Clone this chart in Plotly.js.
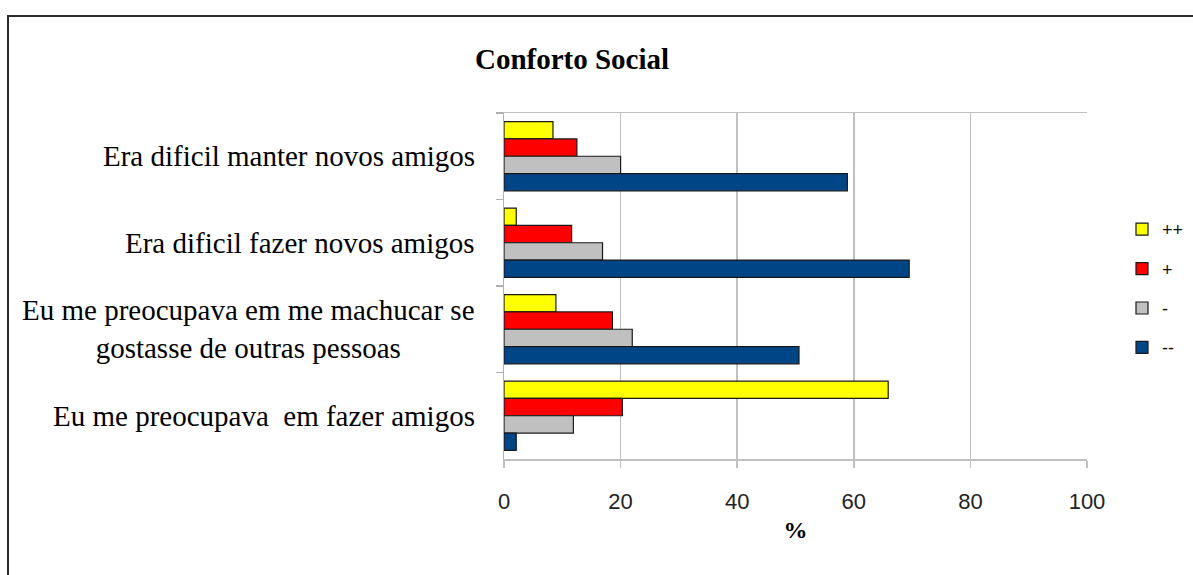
<!DOCTYPE html>
<html>
<head>
<meta charset="utf-8">
<script src="https://cdn.plot.ly/plotly-3.0.1.min.js"></script>
<style>
  html, body { margin: 0; padding: 0; background: #fff; overflow: hidden; }
  #wrap { position: relative; width: 1193px; height: 575px; }
  #chart { position: absolute; left: 0; top: 0; width: 1193px; height: 575px; }
  #frame { position: absolute; left: 7px; top: 15px; width: 1300px; height: 700px;
           border-top: 2px solid #2a2a2a; border-left: 2px solid #2a2a2a; pointer-events: none; }
</style>
</head>
<body>
<div id="wrap">
  <div id="chart"></div>
  <div id="frame"></div>
</div>
<script>
// Categories (top to bottom)
const categories = [
  "Era dificil manter novos amigos",
  "Era dificil fazer novos amigos",
  "Eu me preocupava em me machucar se<br>gostasse de outras pessoas",
  "Eu me preocupava  em fazer amigos"
];
// Series values (%)
const seriesNames = ["++", "+", "-", "--"];
const valsPlusPlus   = [8.4, 2.1, 8.9, 65.9];
const valsPlus       = [12.5, 11.6, 18.6, 20.3];
const valsMinus      = [20.0, 16.9, 22.0, 11.9];
const valsMinusMinus = [58.9, 69.5, 50.6, 2.1];
const seriesValues = [valsPlusPlus, valsPlus, valsMinus, valsMinusMinus];
const seriesColors = ["#ffff00", "#ff0000", "#c0c0c0", "#004586"];
const xTicks = [0, 20, 40, 60, 80, 100];

const traces = seriesNames.map((name, i) => ({
  type: "bar",
  orientation: "h",
  name: name,
  legendgroup: "g" + i,
  y: categories,
  x: seriesValues[i],
  marker: { color: seriesColors[i], line: { color: "#1a1a1a", width: 1.2 } },
  hoverinfo: "x+name"
}));

const annotations = categories.map(c => ({
  xref: "paper", yref: "y", x: 0, y: c,
  xanchor: "right", yanchor: "middle", xshift: -27,
  align: "center", showarrow: false,
  text: c,
  font: { family: "Liberation Serif, Times New Roman, serif", size: 29, color: "#000" }
}));

const layout = {
  width: 1193, height: 575,
  margin: { l: 503.5, r: 106, t: 112.5, b: 116, pad: 0 },
  paper_bgcolor: "#ffffff",
  plot_bgcolor: "#ffffff",
  barmode: "group",
  bargap: 0.2,
  bargroupgap: 0,
  showlegend: true,
  title: {
    text: "<b>Conforto Social</b>",
    font: { family: "Liberation Serif, Times New Roman, serif", size: 29, color: "#000" },
    xref: "container", yref: "container",
    x: 572 / 1193, xanchor: "center",
    y: 1 - 59 / 575, yanchor: "middle"
  },
  xaxis: {
    range: [0, 100],
    tickvals: xTicks,
    ticktext: xTicks.map(String),
    showgrid: true, gridcolor: "#c0c0c0", gridwidth: 1.5,
    zeroline: false,
    showline: true, linecolor: "#c0c0c0", linewidth: 1.5, mirror: true,
    ticks: "outside", ticklen: 7, tickwidth: 1.5, tickcolor: "#c0c0c0",
    ticklabelstandoff: 15,
    tickfont: { family: "Liberation Sans, Arial, sans-serif", size: 22, color: "#222" },
    title: {
      text: "<b>%</b>",
      font: { family: "Liberation Serif, Times New Roman, serif", size: 24, color: "#000" },
      standoff: 8
    },
    fixedrange: true
  },
  yaxis: {
    type: "category",
    autorange: "reversed",
    showticklabels: false,
    showgrid: false,
    zeroline: false,
    showline: true, linecolor: "#b0b0b0", linewidth: 1.5,
    ticks: "outside", tickson: "boundaries", ticklen: 7, tickwidth: 1.5, tickcolor: "#b0b0b0",
    fixedrange: true
  },
  legend: {
    xref: "container", yref: "container",
    x: 1122 / 1193, xanchor: "left",
    y: 1 - 211 / 575, yanchor: "top",
    traceorder: "grouped",
    tracegroupgap: 13,
    font: { family: "Liberation Sans, Arial, sans-serif", size: 18, color: "#111" },
    bgcolor: "rgba(0,0,0,0)",
    itemwidth: 30
  },
  annotations: annotations
};

Plotly.newPlot("chart", traces, layout, { displayModeBar: false, staticPlot: true });
</script>
</body>
</html>
